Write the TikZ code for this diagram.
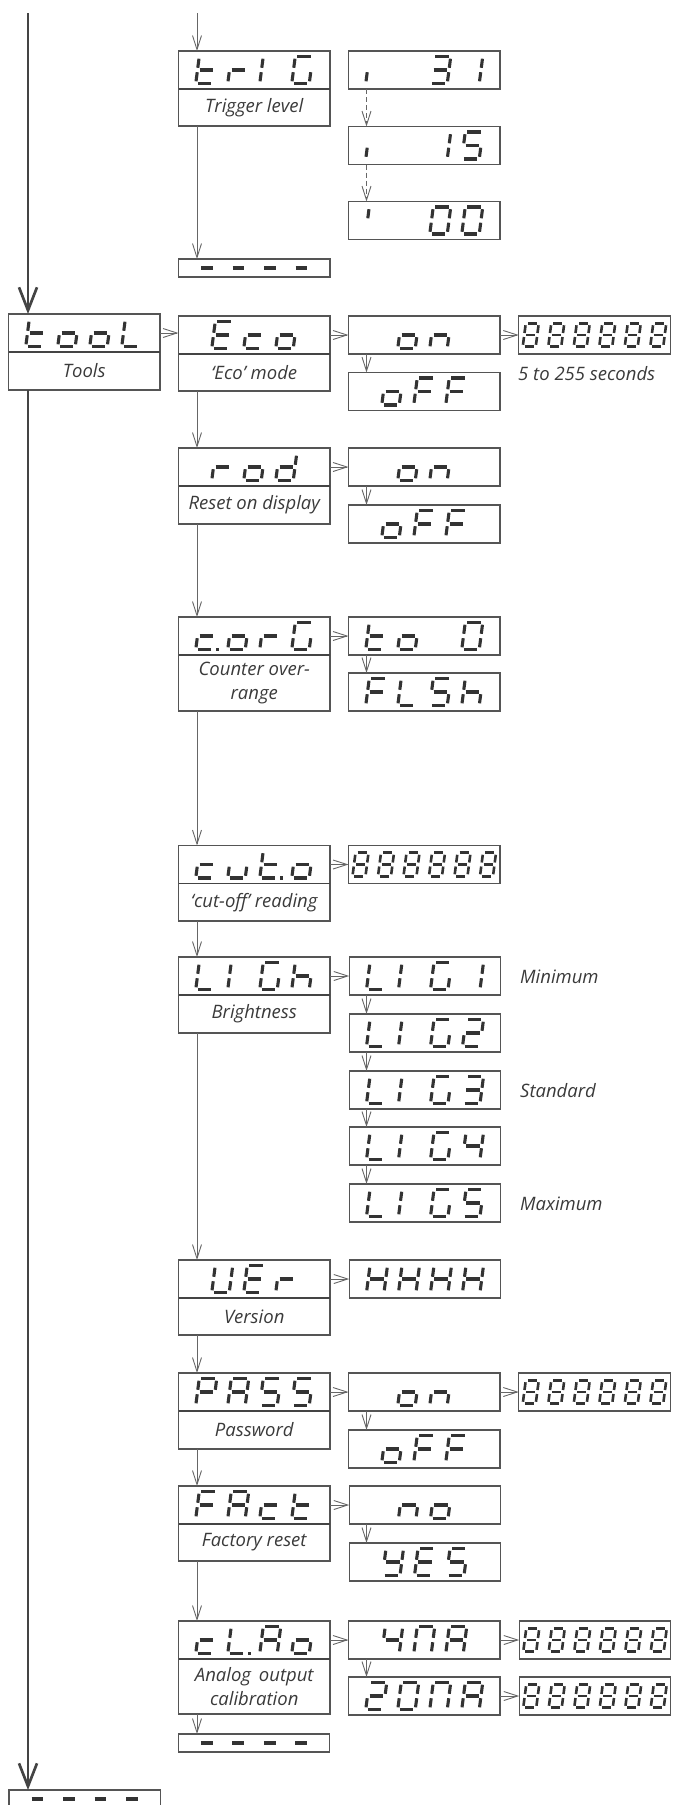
\documentclass[tikz,border=0pt]{standalone}
\usepackage{fontspec}
\setmainfont{Open Sans}
\usetikzlibrary{arrows.meta}
\definecolor{boxgray}{HTML}{555555}
\definecolor{linegray}{HTML}{666666}
\definecolor{maingray}{HTML}{444444}
\definecolor{segcol}{HTML}{333333}
\definecolor{txtcol}{HTML}{3A3A3A}

\newcount\sgn
% character -> segment list
\def\sgdef#1#2{\expandafter\def\csname sgmap-#1\endcsname{#2}}
\sgdef{t}{d,e,f,g}
\sgdef{tp}{d,e,f,g,p}
\sgdef{o}{c,d,e,g}
\sgdef{L}{d,e,f}
\sgdef{Lp}{d,e,f,p}
\sgdef{r}{e,g}
\sgdef{I}{e,f}
\sgdef{G}{a,c,d,e,f}
\sgdef{E}{a,d,e,f,g}
\sgdef{c}{d,e,g}
\sgdef{cp}{d,e,g,p}
\sgdef{n}{c,e,g}
\sgdef{F}{a,e,f,g}
\sgdef{d}{b,c,d,e,g}
\sgdef{S}{a,c,d,f,g}
\sgdef{h}{c,e,f,g}
\sgdef{u}{c,d,e}
\sgdef{8}{a,b,c,d,e,f,g}
\sgdef{1}{b,c}
\sgdef{2}{a,b,d,e,g}
\sgdef{3}{a,b,c,d,g}
\sgdef{4}{b,c,f,g}
\sgdef{5}{a,c,d,f,g}
\sgdef{0}{a,b,c,d,e,f}
\sgdef{U}{b,c,d,e,f}
\sgdef{H}{b,c,e,f,g}
\sgdef{P}{a,b,e,f,g}
\sgdef{A}{a,b,c,e,f,g}
\sgdef{Y}{b,c,d,f,g}
\sgdef{N}{a,b,c,e,f}
\sgdef{-}{g}
\sgdef{i}{e}
\sgdef{ap}{f}
\sgdef{sp}{x}

\def\sgline#1#2#3#4{\draw[segline] ({\xx+(#1)+\sgsl*(#2)},{\sgyb-(#2)}) -- ({\xx+(#3)+\sgsl*(#4)},{\sgyb-(#4)});}
\expandafter\def\csname sgdraw-a\endcsname{\sgline{\sgg}{\sgh}{\sgw-\sgg}{\sgh}}
\expandafter\def\csname sgdraw-b\endcsname{\sgline{\sgw}{\sgh-\sgg}{\sgw}{\sgh/2+\sgg}}
\expandafter\def\csname sgdraw-c\endcsname{\sgline{\sgw}{\sgh/2-\sgg}{\sgw}{\sgg}}
\expandafter\def\csname sgdraw-d\endcsname{\sgline{\sgg}{0}{\sgw-\sgg}{0}}
\expandafter\def\csname sgdraw-e\endcsname{\sgline{0}{\sgg}{0}{\sgh/2-\sgg}}
\expandafter\def\csname sgdraw-f\endcsname{\sgline{0}{\sgh/2+\sgg}{0}{\sgh-\sgg}}
\expandafter\def\csname sgdraw-g\endcsname{\sgline{\sgg}{\sgh/2}{\sgw-\sgg}{\sgh/2}}
\expandafter\def\csname sgdraw-p\endcsname{\fill[segcol] ({\xx+\sgw+2.4},{\sgyb-1.6}) rectangle ++(3.2,3.2);}
\expandafter\def\csname sgdraw-x\endcsname{}

\def\sgpresetL{\def\sgw{17.5}\def\sgh{27}\def\sgt{3.1}\def\sgp{32}\def\sgsl{0.13}\def\sgg{2.2}}
\def\sgpresetS{\def\sgw{13}\def\sgh{23.5}\def\sgt{2.6}\def\sgp{25.5}\def\sgsl{0.13}\def\sgg{2.0}}
\def\sgpresetD{\def\sgw{16.5}\def\sgh{0}\def\sgt{3.3}\def\sgp{31.5}\def\sgsl{0}\def\sgg{2.4}}

\newcommand\sgdisp[4]{%
  \begingroup
  \csname sgpreset#1\endcsname
  \global\sgn=0
  \foreach \sgc in {#4}{\global\advance\sgn by 1}%
  \pgfmathsetmacro\sgxo{#2 - ((\the\sgn-1)*\sgp + \sgw + \sgsl*\sgh)/2}%
  \pgfmathsetmacro\sgyb{#3 + \sgh/2}%
  \foreach \sgc [count=\sgk from 0] in {#4}{%
    \pgfmathsetmacro\xx{\sgxo + \sgk*\sgp}%
    \edef\sgsegs{\csname sgmap-\sgc\endcsname}%
    \foreach \sgs in \sgsegs {\csname sgdraw-\sgs\endcsname}%
  }%
  \endgroup
}
% display box: #1 options, #2 name, #3 cx, #4 cy, #5 preset, #6 items
\newcommand\dnode[6][]{%
  \node[dispbox,#1] (#2) at (#3,#4) {};
  \sgdisp{#5}{#3}{#4}{#6}}
% label box under a display: #1 name, #2 height, #3 text
\newcommand\lnode[3]{%
  \node[lblbox, minimum height=#2pt, anchor=north] (#1-l) at (#1.south) {#3};
  \draw[divider] (#1.south west) -- (#1.south east);}

\begin{document}
\begin{tikzpicture}[x=1pt,y=-1pt,
  segline/.style={draw=segcol, line width=\sgt pt},
  dispbox/.style={draw=boxgray, line width=1.1pt, minimum width=151.5pt, minimum height=38pt, inner sep=0pt, outer sep=0pt},
  lblbox/.style={draw=boxgray, line width=1.1pt, minimum width=151.5pt, inner sep=0pt, outer sep=0pt, align=center,
    text=txtcol, font=\itshape\fontsize{18.5}{24}\selectfont},
  divider/.style={draw=maingray, line width=1.5pt},
  note/.style={text=txtcol, font=\itshape\fontsize{18.5}{24}\selectfont, inner sep=0pt, anchor=west},
  conn/.style={draw=linegray, line width=0.9pt, -{Straight Barb[length=14pt,width=9pt]}},
  dconn/.style={conn, dash pattern=on 5pt off 3pt},
  mainarr/.style={draw=maingray, line width=2.7pt, -{Straight Barb[length=23pt,width=18pt]}}
]
\useasboundingbox (0,0) rectangle (673,1805);
\clip (0,0) rectangle (673,1805);

% ---------- column 1 ----------
\dnode{tool}{84.25}{333}{L}{t,o,o,L}
\lnode{tool}{38}{Tools}
\dnode[minimum height=18pt]{bot}{84.75}{1799}{D}{-,-,-,-}

% ---------- Trigger level ----------
\dnode{trig}{254.25}{70}{L}{t,r,I,G}
\lnode{trig}{37}{Trigger level}
\dnode{i31}{424.25}{70}{L}{i,sp,3,1}
\dnode{i15}{424.25}{145.5}{L}{i,sp,1,5}
\dnode{i00}{424.25}{220.5}{L}{ap,sp,0,0}
\dnode[minimum height=18pt]{dasha}{254.25}{268}{D}{-,-,-,-}

% ---------- Eco ----------
\dnode{eco}{254.25}{335}{L}{E,c,o}
\lnode{eco}{37}{‘Eco’ mode}
\dnode{ecoon}{424.25}{335}{L}{o,n}
\dnode{ecooff}{424.25}{391.5}{L}{o,F,F}
\dnode{econum}{594.5}{335}{S}{8,8,8,8,8,8}
\node[note] (secs) at (518,374) {5 to 255 seconds};

% ---------- rod ----------
\dnode{rod}{254.25}{467}{L}{r,o,d}
\lnode{rod}{38}{Reset on display}
\dnode{rodon}{424.25}{467}{L}{o,n}
\dnode{rodoff}{424.25}{524}{L}{o,F,F}

% ---------- c.orG ----------
\dnode{corg}{254.25}{636}{L}{cp,o,r,G}
\lnode{corg}{56}{Counter over-\\range}
\dnode{to0}{424.25}{636}{L}{t,o,sp,0}
\dnode{flsh}{424.25}{692}{L}{F,L,S,h}

% ---------- cut.o ----------
\dnode{cuto}{254.25}{864.5}{L}{c,u,tp,o}
\lnode{cuto}{37.5}{‘cut-off’ reading}
\dnode{cutonum}{424.25}{864.5}{S}{8,8,8,8,8,8}

% ---------- LIGh ----------
\dnode{ligh}{254.25}{976}{L}{L,I,G,h}
\lnode{ligh}{38}{Brightness}
\dnode{lig1}{425}{976}{L}{L,I,G,1}
\dnode{lig2}{425}{1033}{L}{L,I,G,2}
\dnode{lig3}{425}{1090}{L}{L,I,G,3}
\dnode{lig4}{425}{1146}{L}{L,I,G,4}
\dnode{lig5}{425}{1203}{L}{L,I,G,5}
\node[note] (minimum) at (520,977) {Minimum};
\node[note] (standard) at (520,1091) {Standard};
\node[note] (maximum) at (520,1204) {Maximum};

% ---------- UEr ----------
\dnode{ver}{254.25}{1279}{L}{U,E,r}
\lnode{ver}{37}{Version}
\dnode{hhhh}{425}{1279}{L}{H,H,H,H}

% ---------- PASS ----------
\dnode{pass}{254.25}{1392}{L}{P,A,S,S}
\lnode{pass}{38}{Password}
\dnode{passon}{424.25}{1392}{L}{o,n}
\dnode{passoff}{424.25}{1449}{L}{o,F,F}
\dnode{passnum}{594.5}{1392}{S}{8,8,8,8,8,8}

% ---------- FAct ----------
\dnode{fact}{254.25}{1505}{L}{F,A,c,t}
\lnode{fact}{37}{Factory reset}
\dnode{no}{425}{1505}{L}{n,o}
\dnode{yes}{425}{1562}{L}{Y,E,S}

% ---------- cL.Ao ----------
\dnode{clao}{254.25}{1640}{L}{c,Lp,A,o}
\lnode{clao}{55}{Analog\, output\\calibration}
\dnode{ma4}{424.25}{1640}{L}{4,N,A}
\dnode{ma4num}{595}{1640}{S}{8,8,8,8,8,8}
\dnode{ma20}{424.25}{1696}{L}{2,0,N,A}
\dnode{ma20num}{595}{1696}{S}{8,8,8,8,8,8}
\dnode[minimum height=18pt]{dashb}{254}{1743}{D}{-,-,-,-}

% ---------- connectors ----------
\coordinate (mtop) at (28,13);
\coordinate (ctop) at (197,13);
\coordinate (c3) at (366.5,0);

\draw[mainarr] (mtop) -- (mtop |- tool.north);
\draw[mainarr] (mtop |- tool-l.south) -- (mtop |- bot.north);

\draw[conn] (ctop) -- (ctop |- trig.north);
\draw[conn] (ctop |- trig-l.south) -- (ctop |- dasha.north);
\draw[dconn] (c3 |- i31.south) -- (c3 |- i15.north);
\draw[dconn] (c3 |- i15.south) -- (c3 |- i00.north);

\draw[conn] (tool.east) -- (tool.east -| eco.west);
\draw[conn] (eco.east) -- (eco.east -| ecoon.west);
\draw[conn] (ecoon.east) -- (ecoon.east -| econum.west);
\draw[conn] (c3 |- ecoon.south) -- (c3 |- ecooff.north);

\draw[conn] (ctop |- eco-l.south) -- (ctop |- rod.north);
\draw[conn] (rod.east) -- (rod.east -| rodon.west);
\draw[conn] (c3 |- rodon.south) -- (c3 |- rodoff.north);

\draw[conn] (ctop |- rod-l.south) -- (ctop |- corg.north);
\draw[conn] (corg.east) -- (corg.east -| to0.west);
\draw[conn] (c3 |- to0.south) -- (c3 |- flsh.north);

\draw[conn] (ctop |- corg-l.south) -- (ctop |- cuto.north);
\draw[conn] (cuto.east) -- (cuto.east -| cutonum.west);

\draw[conn] (ctop |- cuto-l.south) -- (ctop |- ligh.north);
\draw[conn] (ligh.east) -- (ligh.east -| lig1.west);
\draw[conn] (c3 |- lig1.south) -- (c3 |- lig2.north);
\draw[conn] (c3 |- lig2.south) -- (c3 |- lig3.north);
\draw[conn] (c3 |- lig3.south) -- (c3 |- lig4.north);
\draw[conn] (c3 |- lig4.south) -- (c3 |- lig5.north);

\draw[conn] (ctop |- ligh-l.south) -- (ctop |- ver.north);
\draw[conn] (ver.east) -- (ver.east -| hhhh.west);

\draw[conn] (ctop |- ver-l.south) -- (ctop |- pass.north);
\draw[conn] (pass.east) -- (pass.east -| passon.west);
\draw[conn] (passon.east) -- (passon.east -| passnum.west);
\draw[conn] (c3 |- passon.south) -- (c3 |- passoff.north);

\draw[conn] (ctop |- pass-l.south) -- (ctop |- fact.north);
\draw[conn] (fact.east) -- (fact.east -| no.west);
\draw[conn] (c3 |- no.south) -- (c3 |- yes.north);

\draw[conn] (ctop |- fact-l.south) -- (ctop |- clao.north);
\draw[conn] (clao.east) -- (clao.east -| ma4.west);
\draw[conn] (ma4.east) -- (ma4.east -| ma4num.west);
\draw[conn] (c3 |- ma4.south) -- (c3 |- ma20.north);
\draw[conn] (ma20.east) -- (ma20.east -| ma20num.west);
\draw[conn] (ctop |- clao-l.south) -- (ctop |- dashb.north);
\end{tikzpicture}
\end{document}
